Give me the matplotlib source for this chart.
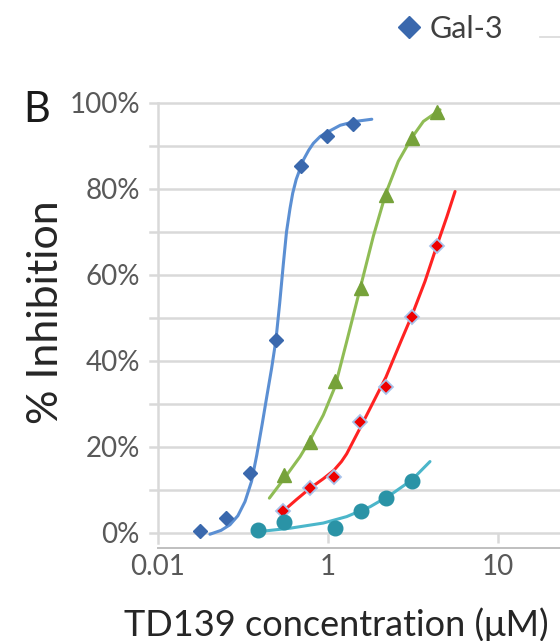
import matplotlib
matplotlib.use("Agg")
import matplotlib.pyplot as plt
from matplotlib.lines import Line2D

plt.rcParams["font.family"] = ["Lato", "DejaVu Sans"]

# Measured points (concentration on the plotted log axis, % inhibition)
conc_gal3 = [0.177, 0.251, 0.348, 0.494, 0.694, 0.99, 1.40]
inh_gal3 = [0.5, 3.4, 13.9, 44.9, 85.3, 92.4, 95.0]

conc_green = [0.551, 0.784, 1.10, 1.56, 2.19, 3.11, 4.40]
inh_green = [13.5, 21.2, 35.3, 56.9, 78.6, 91.9, 98.0]

conc_red = [0.546, 0.784, 1.085, 1.54, 2.19, 3.11, 4.36]
inh_red = [5.1, 10.4, 12.9, 25.7, 34.0, 50.3, 66.8]

conc_teal = [0.389, 0.551, 1.10, 1.56, 2.19, 3.11]
inh_teal = [0.7, 2.5, 1.2, 5.0, 8.1, 12.1]

# Fitted dose-response curves
fit_gal3_x = [0.202, 0.235, 0.265, 0.295, 0.325, 0.355, 0.381, 0.41, 0.436, 0.466,
              0.494, 0.52, 0.546, 0.57, 0.598, 0.62, 0.65, 0.684, 0.72, 0.77,
              0.82, 0.90, 0.982, 1.18, 1.45, 1.81]
fit_gal3_y = [-0.3, 0.6, 1.9, 4.0, 7.3, 12.0, 18.1, 25.3, 31.6, 38.3,
              44.9, 53.5, 62.5, 70.0, 75.5, 79.0, 82.2, 84.6, 86.9, 89.0,
              90.6, 92.2, 93.1, 94.8, 95.7, 96.2]

fit_green_x = [0.452, 0.551, 0.684, 0.784, 0.938, 1.10, 1.288, 1.56, 1.848, 2.19,
               2.59, 3.11, 3.64, 4.56]
fit_green_y = [8.1, 12.6, 17.7, 21.6, 27.4, 34.0, 44.5, 57.5, 69.0, 79.0,
               86.4, 91.9, 95.7, 98.4]

fit_red_x = [0.546, 0.654, 0.784, 0.938, 1.085, 1.20, 1.288, 1.54, 1.77, 2.19, 2.70,
             3.11, 3.72, 4.36, 5.0, 5.59]
fit_red_y = [5.1, 7.8, 10.4, 12.6, 14.6, 16.6, 18.4, 24.3, 29.0, 36.2, 44.8,
             50.5, 58.5, 66.7, 73.5, 79.4]

fit_teal_x = [0.389, 0.598, 0.938, 1.288, 1.77, 2.32, 3.11, 3.98]
fit_teal_y = [0.3, 1.1, 2.3, 3.8, 6.1, 8.8, 12.3, 16.6]

x_ticks = [0.1, 1, 10]
x_tick_labels = ["0.01", "1", "10"]
y_ticks = [0, 20, 40, 60, 80, 100]
y_tick_labels = ["0%", "20%", "40%", "60%", "80%", "100%"]
y_grid = [0, 10, 20, 30, 40, 50, 60, 70, 80, 90, 100]

W, H = 560, 641
fig = plt.figure(figsize=(W / 100, H / 100), dpi=100)
ax = fig.add_axes([158 / W, (H - 548) / H, 510 / W, (548 - 90) / H])
ax.set_xscale("log")
ax.set_xlim(0.1, 100)
ax.set_ylim(-3.5, 103)

grid_col = "#d9d9d9"
for g in y_grid:
    ax.axhline(g, xmin=-8 / 510, xmax=1, color=grid_col, lw=1.8, clip_on=False, zorder=0)
ax.plot([0.1, 0.1], [-2.3, 100], color=grid_col, lw=1.8, zorder=0, clip_on=False)
ax.vlines([1, 10], -2.3, 0, color=grid_col, lw=1.8, zorder=0)

for s in ["top", "right", "left"]:
    ax.spines[s].set_visible(False)
ax.spines["bottom"].set_color("#bfbfbf")
ax.spines["bottom"].set_linewidth(1.4)

ax.set_xticks(x_ticks)
ax.set_xticklabels(x_tick_labels)
ax.xaxis.set_minor_locator(plt.NullLocator())
ax.set_yticks(y_ticks)
ax.set_yticklabels(y_tick_labels)
ax.tick_params(axis="x", length=0, pad=4, labelsize=20, labelcolor="#595959")
ax.tick_params(axis="y", length=0, pad=13, labelsize=20, labelcolor="#595959")
for lab in ax.get_yticklabels():
    lab.set_verticalalignment("center_baseline")

# Curves
line_kw = dict(lw=2.2, zorder=2, solid_capstyle="round", solid_joinstyle="round")
ax.plot(fit_gal3_x, fit_gal3_y, color="#5b8fd3", **line_kw)
ax.plot(fit_green_x, fit_green_y, color="#8fbc55", **line_kw)
ax.plot(fit_red_x, fit_red_y, color="#ff2222", **line_kw)
ax.plot(fit_teal_x, fit_teal_y, color="#4bb6ca", **line_kw)

# Markers
h_gal3, = ax.plot(conc_gal3, inh_gal3, ls="none", marker="D", ms=7.5,
                  color="#3a68ad", mec="#3a68ad", zorder=3, label="Gal-3")
ax.plot(conc_green, inh_green, ls="none", marker="^", ms=10,
        color="#76a23a", mec="#76a23a", zorder=3)
ax.plot(conc_red, inh_red, ls="none", marker="D", ms=6.8,
        color="#ee0000", mec="#a8c2ea", mew=1.3, zorder=3)
ax.plot(conc_teal, inh_teal, ls="none", marker="o", ms=10.5,
        color="#2a93a6", mec="#2a93a6", zorder=3)

fig.legend(handles=[h_gal3], labels=["Gal-3"], loc="center left",
           bbox_to_anchor=(394 / W, 1 - 29 / H), frameon=False,
           handlelength=1.0, handletextpad=0.15, borderpad=0, borderaxespad=0,
           prop={"size": 22}, labelcolor="#404040", markerscale=1.45)
fig.add_artist(Line2D([540 / W, 1], [1 - 37 / H, 1 - 37 / H],
                      transform=fig.transFigure, color=grid_col, lw=1.2))

fig.text(37 / W, 1 - 110 / H, "B", fontsize=30, ha="center", va="center", color="#1a1a1a")
fig.text(46 / W, 1 - 312 / H, "% Inhibition", rotation=90, fontsize=31,
         ha="center", va="center", color="#262626")
fig.text(336 / W, 1 - 636 / H, "TD139 concentration (\u03bcM)", fontsize=26,
         ha="center", va="baseline", color="#262626")

fig.savefig("out.png", dpi=100)
